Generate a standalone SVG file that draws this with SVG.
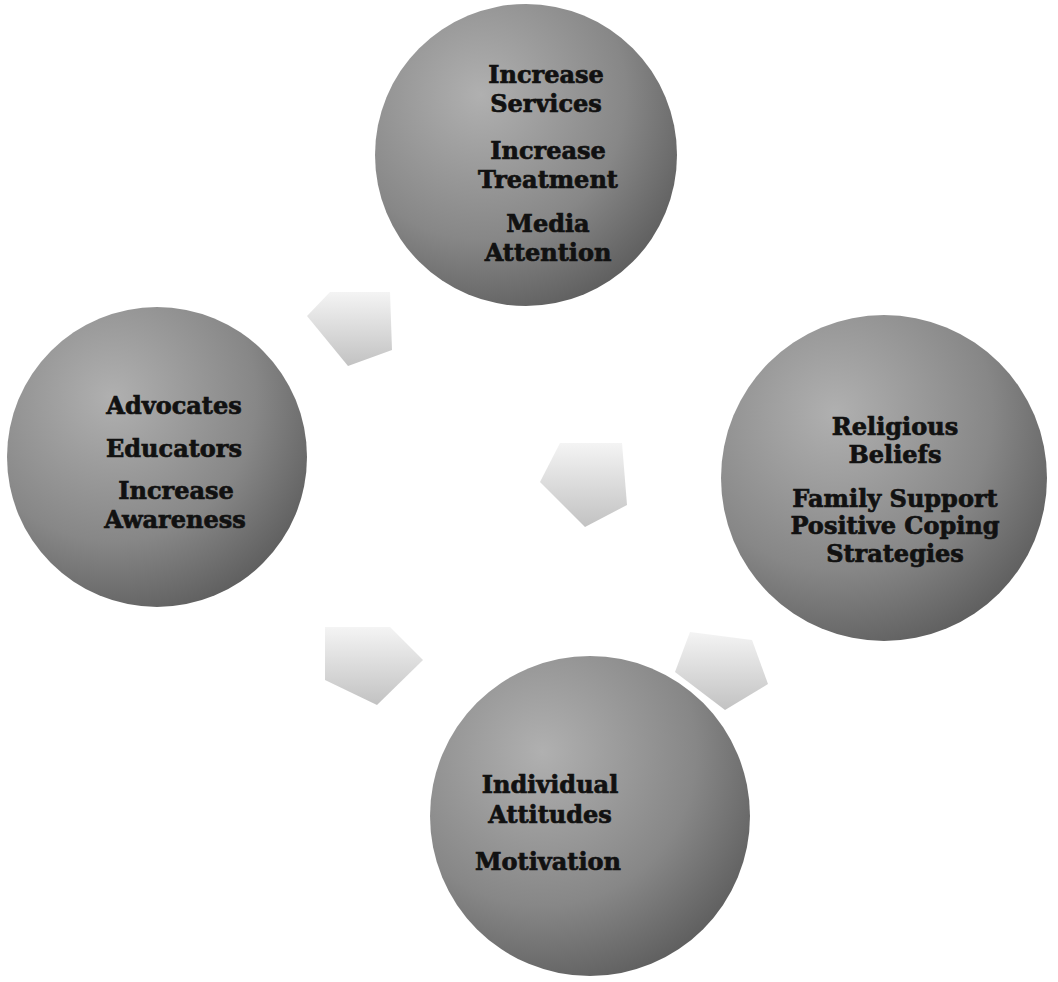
<svg xmlns="http://www.w3.org/2000/svg" width="1058" height="982" viewBox="0 0 1058 982">
  <defs>
    <radialGradient id="ball" cx="0.35" cy="0.3" r="0.8">
      <stop offset="0" stop-color="#b0b0b0"/>
      <stop offset="0.6" stop-color="#878787"/>
      <stop offset="1" stop-color="#585858"/>
    </radialGradient>
    <linearGradient id="arrowFill" x1="0" y1="0" x2="0" y2="1">
      <stop offset="0" stop-color="#f4f4f4"/>
      <stop offset="1" stop-color="#c2c2c2"/>
    </linearGradient>
    <style>
      .node circle { fill: url(#ball); }
      .node text { font-family: "DejaVu Serif", "Liberation Serif", serif; font-weight: bold; font-size: 24px; fill: #111; stroke: #111; stroke-width: 0.7; text-anchor: middle; }
      .connectors polygon { fill: url(#arrowFill); }
    </style>
  </defs>
  <rect width="1058" height="982" fill="#ffffff"/>

  <!-- block arrows between the circles -->
  <g class="connectors" id="connectors">
    <polygon points="330,292 390,292 392,350 348,366 307,316"/>
    <polygon points="560,443 622,443 627,505 585,527 540,482"/>
    <polygon points="325,627 390,627 423,660 377,705 325,680"/>
    <polygon points="690,632 752,640 768,684 725,710 675,672"/>
  </g>

  <g class="node" id="node-services">
    <circle cx="526" cy="155" r="151"/>
    <text x="546" y="83">Increase</text>
    <text x="546" y="112">Services</text>
    <text x="548" y="159">Increase</text>
    <text x="548" y="188">Treatment</text>
    <text x="548" y="232">Media</text>
    <text x="548" y="261">Attention</text>
  </g>

  <g class="node" id="node-advocates">
    <circle cx="157" cy="457" r="150"/>
    <text x="174" y="414">Advocates</text>
    <text x="174" y="457">Educators</text>
    <text x="176" y="499">Increase</text>
    <text x="175" y="528">Awareness</text>
  </g>

  <g class="node" id="node-beliefs">
    <circle cx="884" cy="478" r="163"/>
    <text x="895" y="435">Religious</text>
    <text x="895" y="463">Beliefs</text>
    <text x="895" y="507">Family Support</text>
    <text x="895" y="534">Positive Coping</text>
    <text x="895" y="562">Strategies</text>
  </g>

  <g class="node" id="node-individual">
    <circle cx="590" cy="816" r="160"/>
    <text x="550" y="793">Individual</text>
    <text x="550" y="823">Attitudes</text>
    <text x="548" y="870">Motivation</text>
  </g>
</svg>
